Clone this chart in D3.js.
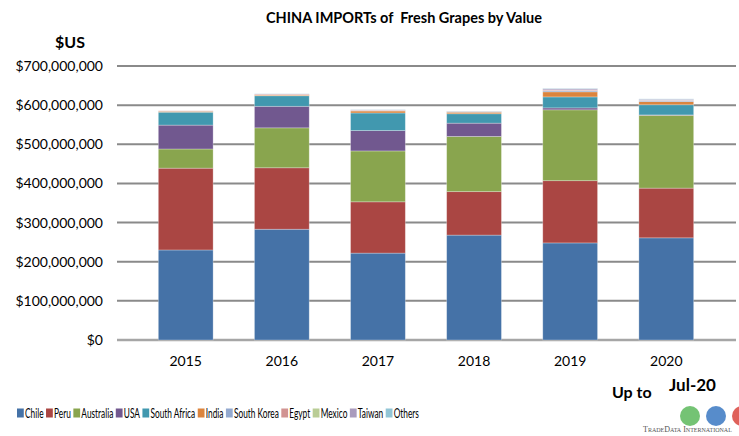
<!DOCTYPE html>
<html>
<head>
<meta charset="utf-8">
<script src="https://cdn.jsdelivr.net/npm/d3@7"></script>
<style>
  body { margin: 0; background: #fff; }
  svg { font-family: Lato, "Open Sans", sans-serif; }
</style>
</head>
<body>
<svg id="chart" width="739" height="436"></svg>
<script>
// data (values in $ millions)
const years = ['2015', '2016', '2017', '2018', '2019', '2020'];
const countries = ['Chile', 'Peru', 'Australia', 'USA', 'South Africa', 'India', 'South Korea', 'Egypt', 'Mexico', 'Taiwan', 'Others'];
const chile       = [230, 283, 222, 268, 248, 261];
const peru        = [209, 157, 131, 111, 159, 127];
const australia   = [49, 102, 130, 141, 181, 186];
const usa         = [61, 55, 52, 34, 5, 1];
const southAfrica = [33, 27, 45, 24, 28, 26];
const india       = [2.5, 2, 5, 4, 13, 8];
const southKorea  = [0.5, 0.5, 1, 1, 3, 3];
const egypt       = [0.5, 2, 1.5, 1, 2, 1];
const mexico      = [0, 0, 0, 0, 0, 0];
const taiwan      = [0, 0, 0.5, 0.5, 3, 2];
const others      = [0, 0.5, 0.5, 0.5, 1, 1];
const yTicks = [0, 100, 200, 300, 400, 500, 600, 700];
const colors = ['#4572a7', '#aa4643', '#89a54e', '#71588f', '#4198af', '#db843d', '#93a9cf', '#d19392', '#b9cd96', '#a99bbd', '#92c5d6'];

const series = [chile, peru, australia, usa, southAfrica, india, southKorea, egypt, mexico, taiwan, others];
const rows = years.map((y, i) => {
  const r = { year: y };
  countries.forEach((c, j) => r[c] = series[j][i]);
  return r;
});

const svg = d3.select('#chart');

const x = d3.scaleBand().domain(years).range([117, 735]).padding(0.43);
const y = d3.scaleLinear().domain([0, 700]).range([340, 66]);

//gridlines
svg.append('g').selectAll('line')
  .data(yTicks)
  .join('line')
  .attr('x1', 117).attr('x2', 736)
  .attr('y1', d => y(d)).attr('y2', d => y(d))
  .style('stroke', d => d === 0 ? '#a6a6a6' : '#8a8a8a')
  .style('stroke-width', d => d === 0 ? 2.5 : 2);

//y axis labels
const fmt = d3.format(',');
svg.append('g').selectAll('text')
  .data(yTicks)
  .join('text')
  .attr('x', 103)
  .attr('y', d => y(d) + 5)
  .attr('text-anchor', 'end')
  .style('font-size', '14px')
  .style('fill', '#000')
  .text(d => '$' + fmt(d * 1000000));

//stacked bars
const stacked = d3.stack().keys(countries)(rows);
svg.append('g').selectAll('g')
  .data(stacked)
  .join('g')
  .attr('fill', (d, i) => colors[i])
  .selectAll('rect')
  .data(d => d)
  .join('rect')
  .attr('x', d => x(d.data.year))
  .attr('y', d => y(d[1]))
  .attr('width', x.bandwidth())
  .attr('height', d => Math.max(0, y(d[0]) - y(d[1])))
  .style('stroke', 'rgba(255,255,255,0.35)')
  .style('stroke-width', 0.8);

//x labels
svg.append('g').selectAll('text')
  .data(years)
  .join('text')
  .attr('x', d => x(d) + x.bandwidth() / 2)
  .attr('y', 366)
  .attr('text-anchor', 'middle')
  .style('font-size', '14px')
  .text(d => d);

//title
svg.append('text')
  .attr('x', 404).attr('y', 23)
  .attr('text-anchor', 'middle')
  .style('font-size', '14.5px')
  .style('font-weight', 'bold')
  .style('white-space', 'pre')
  .text('CHINA IMPORTs of  Fresh Grapes by Value');

svg.append('text')
  .attr('x', 70).attr('y', 48)
  .attr('text-anchor', 'middle')
  .style('font-size', '16px')
  .style('font-weight', 'bold')
  .text('$US');

svg.append('text')
  .attr('x', 612).attr('y', 398)
  .style('font-size', '16px')
  .style('font-weight', 'bold')
  .text('Up to');

svg.append('text')
  .attr('x', 669).attr('y', 391)
  .style('font-size', '17px')
  .style('font-weight', 'bold')
  .text('Jul-20');

//legend, squeezed sideways to the width of the original's narrow font
let lx = 0;
const legend = svg.append('g');
countries.forEach((c, i) => {
  legend.append('rect')
    .attr('x', lx).attr('y', 408.5)
    .attr('width', 11).attr('height', 9)
    .attr('fill', colors[i]);
  const t = legend.append('text')
    .attr('x', lx + 13).attr('y', 418)
    .style('font-size', '13.5px')
    .text(c);
  lx += 13 + t.node().getComputedTextLength() + 4;
});
const squeeze = 402 / (lx - 4);
legend.attr('transform', `translate(17,0) scale(${squeeze},1)`);

//logo
const logo = svg.append('g');
[['#5cb85c', 690], ['#3a78c2', 716], ['#d9453d', 742]].forEach(g => {
  logo.append('circle')
    .attr('cx', g[1]).attr('cy', 416)
    .attr('r', 10)
    .attr('fill', g[0])
    .attr('opacity', 0.85);
});
logo.append('text')
  .attr('x', 643).attr('y', 432)
  .style('font-family', '"Liberation Serif", serif')
  .style('font-size', '8px')
  .style('font-variant', 'small-caps')
  .style('fill', '#555')
  .text('TradeData International');
</script>
</body>
</html>
